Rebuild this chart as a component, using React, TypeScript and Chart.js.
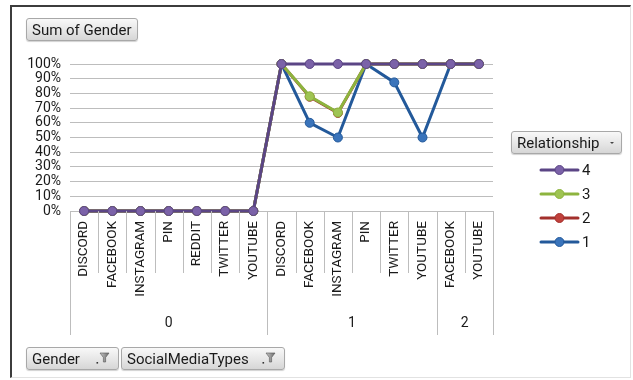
import React, { useEffect, useRef } from 'react';
import { Chart, registerables } from 'chart.js';

Chart.register(...registerables);

// Social media type per row, grouped by gender code
const categories = [
  'DISCORD', 'FACEBOOK', 'INSTAGRAM', 'PIN', 'REDDIT', 'TWITTER', 'YOUTUBE',
  'DISCORD', 'FACEBOOK', 'INSTAGRAM', 'PIN', 'TWITTER', 'YOUTUBE',
  'FACEBOOK', 'YOUTUBE',
];
const genderGroups = ['0', '1', '2'];
const groupSizes = [7, 6, 2];

// Sum of Gender, share per relationship (stacked to 100%)
const relationship4 = [0, 0, 0, 0, 0, 0, 0, 1, 1, 1, 1, 1, 1, 1, 1];
const relationship3 = [0, 0, 0, 0, 0, 0, 0, 1, 0.78, 0.67, 1, 1, 1, 1, 1];
const relationship2 = [0, 0, 0, 0, 0, 0, 0, 1, 0.777, 0.667, 1, 1, 1, 1, 1];
const relationship1 = [0, 0, 0, 0, 0, 0, 0, 1, 0.6, 0.5, 1, 0.875, 0.5, 1, 1];

const seriesLabels = ['4', '3', '2', '1'];
const seriesColors = ['#5b4585', '#8db43e', '#a3302c', '#23599a'];
const markerColors = ['#7b62a8', '#9fc453', '#c1413c', '#3a74bb'];

const FONT = 'Roboto, "Liberation Sans", sans-serif';
const TEXT = '#1a1a1a';

const groupAxisPlugin = {
  id: 'groupAxis',
  afterDraw(chart: any) {
    const { ctx, chartArea, scales } = chart;
    const x = scales.x;
    const step = x.getPixelForValue(1) - x.getPixelForValue(0);
    const bottom = chartArea.bottom;
    const boundaries: number[] = [0];
    let acc = 0;
    groupSizes.forEach((n) => {
      acc += n;
      boundaries.push(acc);
    });
    ctx.save();
    ctx.strokeStyle = '#bdbdbd';
    ctx.lineWidth = 1;
    for (let i = 0; i <= categories.length; i++) {
      const px = Math.round(x.getPixelForValue(0) - step / 2 + i * step) + 0.5;
      const len = boundaries.includes(i) ? 124 : 62;
      ctx.beginPath();
      ctx.moveTo(px, bottom);
      ctx.lineTo(px, bottom + len);
      ctx.stroke();
    }
    ctx.fillStyle = TEXT;
    ctx.font = `14px ${FONT}`;
    ctx.textAlign = 'center';
    ctx.textBaseline = 'middle';
    genderGroups.forEach((g, gi) => {
      const start = boundaries[gi];
      const end = boundaries[gi + 1];
      const cx = x.getPixelForValue(0) - step / 2 + ((start + end) / 2) * step;
      ctx.fillText(g, cx, bottom + 112);
    });
    ctx.restore();
  },
};

const lineLegendPlugin = {
  id: 'lineLegend',
  afterDraw(chart: any) {
    const { ctx, chartArea } = chart;
    const x0 = chartArea.right + 48;
    const x1 = chartArea.right + 85;
    const top = 170;
    const gap = 24;
    ctx.save();
    chart.data.datasets.forEach((ds: any, i: number) => {
      const y = top + i * gap;
      ctx.strokeStyle = ds.borderColor;
      ctx.lineWidth = 3;
      ctx.lineCap = 'round';
      ctx.beginPath();
      ctx.moveTo(x0, y);
      ctx.lineTo(x1, y);
      ctx.stroke();
      ctx.beginPath();
      ctx.arc((x0 + x1) / 2, y, 4.5, 0, Math.PI * 2);
      ctx.fillStyle = ds.pointBackgroundColor;
      ctx.fill();
      ctx.lineWidth = 1;
      ctx.stroke();
      ctx.fillStyle = TEXT;
      ctx.font = `15px ${FONT}`;
      ctx.textAlign = 'left';
      ctx.textBaseline = 'middle';
      ctx.fillText(ds.label, x1 + 4, y + 1);
    });
    ctx.restore();
  },
};

const buttonStyle: React.CSSProperties = {
  position: 'absolute',
  boxSizing: 'border-box',
  height: 23,
  display: 'flex',
  alignItems: 'center',
  paddingLeft: 5,
  border: '1px solid #a8a8a8',
  borderRadius: 3,
  background: 'linear-gradient(#f8f8f8, #e6e6e6 55%, #d6d6d6)',
  boxShadow: '0 1px 1px rgba(0,0,0,0.18)',
  font: `15px ${FONT}`,
  color: '#1a1a1a',
  whiteSpace: 'nowrap',
};

function FilterIcon() {
  return (
    <svg width="14" height="13" viewBox="0 0 14 13" style={{ position: 'absolute', right: 8, top: 4 }}>
      <defs>
        <linearGradient id="fg" x1="0" x2="1">
          <stop offset="0" stopColor="#c8c8c8" />
          <stop offset="1" stopColor="#6a6a6a" />
        </linearGradient>
      </defs>
      <rect x="0.5" y="10" width="1.6" height="1.6" fill="#333" />
      <path d="M4 1 L13 1 L9.6 5.5 L9.6 10 L7.4 10 L7.4 5.5 Z" fill="url(#fg)" stroke="#555" strokeWidth="0.6" />
    </svg>
  );
}

function DropIcon() {
  return (
    <svg width="6" height="4" viewBox="0 0 6 4" style={{ position: 'absolute', right: 6, top: 9 }}>
      <path d="M1 1 L5 1 L3 3 Z" fill="#444" />
    </svg>
  );
}

export default function App() {
  const canvasRef = useRef<HTMLCanvasElement | null>(null);

  useEffect(() => {
    if (!canvasRef.current) return;
    const values = [relationship4, relationship3, relationship2, relationship1];
    const chart = new Chart(canvasRef.current, {
      type: 'line',
      data: {
        labels: categories,
        datasets: values.map((data, i) => ({
          label: seriesLabels[i],
          data,
          borderColor: seriesColors[i],
          backgroundColor: seriesColors[i],
          pointBackgroundColor: markerColors[i],
          pointBorderColor: seriesColors[i],
          pointBorderWidth: 1,
          pointRadius: 4.5,
          borderWidth: 3,
          tension: 0,
          clip: false as any,
        })),
      },
      options: {
        responsive: false,
        animation: false,
        devicePixelRatio: 1,
        layout: { padding: { top: 64, right: 140, bottom: 0, left: 0 } },
        plugins: {
          legend: { display: false },
          tooltip: { enabled: false },
        },
        scales: {
          x: {
            offset: true,
            grid: { display: false, drawTicks: false },
            border: { display: false },
            ticks: {
              autoSkip: false,
              minRotation: 90,
              maxRotation: 90,
              padding: 10,
              color: TEXT,
              font: { family: FONT, size: 13.5 },
            },
            afterFit: (s: any) => {
              s.height = 169;
            },
          },
          y: {
            min: 0,
            max: 1,
            grid: { color: '#bdbdbd', drawTicks: false },
            border: { display: false },
            ticks: {
              stepSize: 0.1,
              autoSkip: false,
              padding: 9,
              color: TEXT,
              font: { family: FONT, size: 14 },
              callback: (v: any) => `${Math.round(Number(v) * 100)}%`,
            },
            afterFit: (s: any) => {
              s.width = 70;
            },
          },
        },
      },
      plugins: [groupAxisPlugin, lineLegendPlugin],
    });
    return () => chart.destroy();
  }, []);

  return (
    <div style={{ position: 'absolute', left: 0, top: 0, width: 633, height: 380, background: '#fff', overflow: 'hidden' }}>
      <div
        style={{
          position: 'absolute',
          left: 10,
          top: 5,
          width: 621,
          height: 373,
          boxSizing: 'border-box',
          borderTop: '2px solid #3c3c3c',
          borderLeft: '2px solid #3c3c3c',
          borderRight: '1px solid #e2e2e2',
          borderBottom: '1px solid #e2e2e2',
        }}
      />
      <canvas ref={canvasRef} width={633} height={380} style={{ position: 'absolute', left: 0, top: 0 }} />
      <div style={{ ...buttonStyle, left: 26, top: 18, width: 112 }}>Sum of Gender</div>
      <div style={{ ...buttonStyle, left: 511, top: 131, width: 111 }}>
        Relationship
        <DropIcon />
      </div>
      <div style={{ ...buttonStyle, left: 26, top: 347, width: 93 }}>
        Gender
        <FilterIcon />
      </div>
      <div style={{ ...buttonStyle, left: 121, top: 347, width: 164 }}>
        SocialMediaTypes
        <FilterIcon />
      </div>
    </div>
  );
}
